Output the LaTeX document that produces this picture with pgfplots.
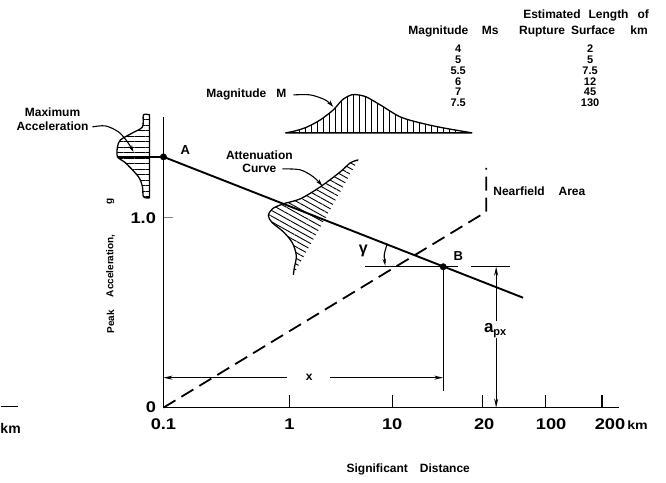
\documentclass[border=0pt]{standalone}
\usepackage{fontspec}
\setmainfont{Liberation Sans}
\newfontfamily\tickfont[FakeStretch=1.18]{Liberation Sans}
\usepackage{pgfplots}
\pgfplotsset{compat=1.18}
\usetikzlibrary{arrows.meta,patterns.meta}

\begin{document}
\begin{tikzpicture}
\begin{axis}[
  x=1pt, y=1pt,
  xmin=163, xmax=619, ymin=75, ymax=366,
  axis lines=left,
  axis line style={-, line width=1.4pt},
  clip=false,
  tick align=inside,
  major tick length=10pt,
  xtick={163,289,392,484,551,610},
  xticklabels={0.1,1,10,20,100,{200\rlap{\fontsize{12}{12}\selectfont\,km}}},
  xtick style={draw=none},
  extra x ticks={289,392,482,545,602},
  extra x tick labels={},
  extra x tick style={xtick style={draw=black, line width=1.2pt}, major tick length=13pt, tick align=inside},
  ytick={75,265},
  yticklabels={0,1.0},
  ytick style={line width=1.2pt},
  xticklabel style={font=\tickfont\bfseries\fontsize{15.5}{15.5}\selectfont, yshift=-8pt},
  yticklabel style={font=\tickfont\bfseries\fontsize{15.5}{15.5}\selectfont, xshift=-4pt},
]
% frame for the bounding box
\addplot[draw=none, forget plot] coordinates {(0,0) (666,483)};

% attenuation distribution (hatched)
\addplot[draw=none, smooth, pattern={Lines[angle=-29,distance=5pt,line width=0.9pt]}] coordinates {
 (358,323) (350,320) (340,311) (320,296) (300,284) (283,279) (272,274) (268,267)
 (272,260) (283,251) (292,240) (296,227) (294,215) (293,208)} -- cycle;
\addplot[line width=1.3pt, smooth] coordinates {
 (358,323) (350,320) (340,311) (320,296) (300,284) (283,279) (272,274) (268,267)
 (272,260) (283,251) (292,240) (296,227) (294,215) (293,208)};

% maximum acceleration distribution
\addplot[line width=1.3pt, smooth, pattern={Lines[angle=0,distance=5.5pt,line width=0.9pt]}] coordinates {
 (149,368) (143,368) (142,356) (132,350) (120,343) (117,336) (117,326) (125,320)
 (138,306) (142,296) (143,286) (149,285)} -- cycle;

% magnitude distribution
\addplot[line width=1.3pt, smooth, pattern={Lines[angle=90,distance=6pt,line width=0.9pt]}] coordinates {
 (285,350) (295,352) (307,356) (320,363) (333,373) (342,383) (351,388) (358,388)
 (366,386) (380,378) (400,366) (420,360) (443,355) (472,350)} -- cycle;

% attenuation line
\addplot[line width=1.9pt] coordinates {(163,326) (523,185)};
\addplot[line width=1.4pt] coordinates {(118,326) (163,326)};

% nearfield boundary
\addplot[line width=1.8pt, dash pattern=on 14pt off 7pt] coordinates {(163,75) (486,271) (486,315)};

% construction lines at B
\addplot[line width=1.1pt] coordinates {(365,216) (458,216)};
\addplot[line width=1.1pt] coordinates {(443,216) (443,92)};
\addplot[line width=1.1pt, {Stealth[length=9pt,width=4pt]}-] coordinates {(163,105) (287,105)};
\addplot[line width=1.1pt, -{Stealth[length=9pt,width=4pt]}] coordinates {(330,105) (443,105)};
\addplot[line width=1.1pt] coordinates {(471,216) (510,216)};
\addplot[line width=1.1pt, {Stealth[length=9pt,width=4pt]}-] coordinates {(496,216) (496,162)};
\addplot[line width=1.1pt, -{Stealth[length=9pt,width=4pt]}] coordinates {(496,145) (496,75)};
\addplot[line width=1.1pt, smooth, -{Stealth[length=7pt,width=3.5pt]}] coordinates {(387,239) (384,228) (385,217)};

% curved label arrows
\addplot[line width=1.1pt, smooth, -{Stealth[length=7pt,width=4pt]}] coordinates {(92,356) (105,357) (118,351) (127,341) (133,331)};
\addplot[line width=1.1pt, smooth, -{Stealth[length=7pt,width=4pt]}] coordinates {(293,388) (310,388) (325,383) (333,376)};
\addplot[line width=1.1pt, smooth, -{Stealth[length=7pt,width=4pt]}] coordinates {(282,314) (300,313) (313,306) (322,297)};

% points A and B
\addplot[only marks, mark=*, mark size=3.2pt] coordinates {(163,326) (443,216)};

% fragment at the left edge
\addplot[line width=1.2pt] coordinates {(0,76) (17,76)};
\node[inner sep=0pt, font=\bfseries\fontsize{14}{14}\selectfont] at (axis cs:10,54) {km};

% labels
\node[font=\bfseries\fontsize{12}{14}\selectfont, align=center] at (axis cs:52,364) {Maximum\\Acceleration};
\node[font=\bfseries\fontsize{12}{12}\selectfont] at (axis cs:246,388) {Magnitude\hspace{10pt}M};
\node[font=\bfseries\fontsize{12}{13}\selectfont, align=center] at (axis cs:259,321) {Attenuation\\Curve};
\node[font=\bfseries\fontsize{13}{13}\selectfont] at (axis cs:185,333) {A};
\node[font=\bfseries\fontsize{13}{13}\selectfont] at (axis cs:458,227) {B};
\node[anchor=west, inner sep=0pt, font=\bfseries\fontsize{12}{12}\selectfont] at (axis cs:493,292) {Nearfield\hspace{14pt}Area};
\node[font=\bfseries\fontsize{16}{16}\selectfont] at (axis cs:363,232) {γ};
\node[font=\bfseries\fontsize{12}{12}\selectfont] at (axis cs:309,105) {x};
\node[font=\bfseries] at (axis cs:495,152) {{\fontsize{17}{17}\selectfont a}\raisebox{-3pt}{\fontsize{11}{11}\selectfont px}};
\node[font=\bfseries\fontsize{12}{12}\selectfont] at (axis cs:408,13) {Significant\hspace{12pt}Distance};
\node[rotate=90, font=\bfseries\fontsize{10}{10}\selectfont] at (axis cs:110,161) {Peak};
\node[rotate=90, font=\bfseries\fontsize{10}{10}\selectfont] at (axis cs:110,217) {Acceleration,};
\node[rotate=90, font=\bfseries\fontsize{10}{10}\selectfont] at (axis cs:110,281) {g};

% table
\node[anchor=base west, inner sep=0pt, font=\bfseries\fontsize{12}{12}\selectfont] at (axis cs:523,464) {Estimated\hspace{8pt}Length\hspace{9pt}of};
\node[anchor=base west, inner sep=0pt, font=\bfseries\fontsize{12}{12}\selectfont] at (axis cs:408,448) {Magnitude};
\node[anchor=base, inner sep=0pt, font=\bfseries\fontsize{12}{12}\selectfont] at (axis cs:490,448) {Ms};
\node[anchor=base, inner sep=0pt, font=\bfseries\fontsize{12}{12}\selectfont] at (axis cs:542,448) {Rupture};
\node[anchor=base, inner sep=0pt, font=\bfseries\fontsize{12}{12}\selectfont] at (axis cs:593,448) {Surface};
\node[anchor=base, inner sep=0pt, font=\bfseries\fontsize{12}{12}\selectfont] at (axis cs:639,448) {km};
\node[anchor=north, inner sep=0pt, align=center, font=\bfseries\fontsize{11}{10.8}\selectfont] at (axis cs:458,438) {4\\5\\5.5\\6\\7\\7.5};
\node[anchor=north, inner sep=0pt, align=center, font=\bfseries\fontsize{11}{10.8}\selectfont] at (axis cs:590,438) {2\\5\\7.5\\12\\45\\130};
\end{axis}
\end{tikzpicture}
\end{document}
